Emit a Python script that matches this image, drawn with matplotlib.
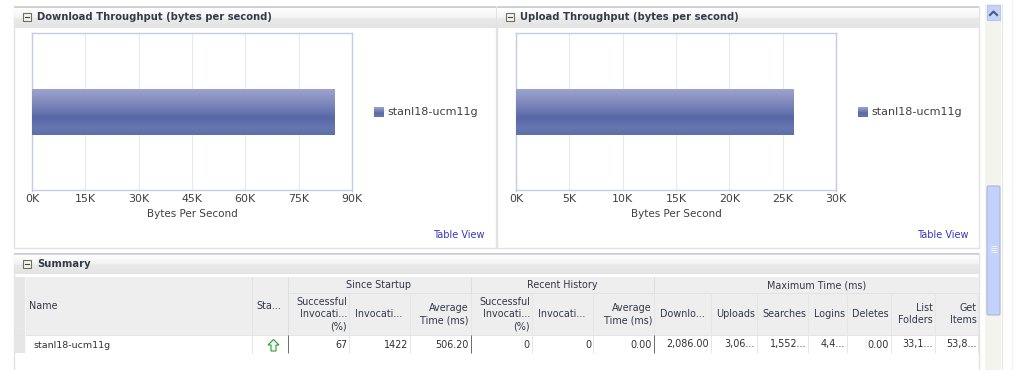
import numpy as np
import matplotlib
matplotlib.use("Agg")
import matplotlib.pyplot as plt
from matplotlib.patches import Rectangle, Polygon, FancyBboxPatch
from matplotlib.colors import LinearSegmentedColormap

W, H = 1014, 370
plt.rcParams['font.family'] = ['DejaVu Sans']

# ---- data ----
series_name = "stanl18-ucm11g"
download_value = [85000]
download_ticks = [0, 15000, 30000, 45000, 60000, 75000, 90000]
download_labels = ["0K", "15K", "30K", "45K", "60K", "75K", "90K"]
upload_value = [26000]
upload_ticks = [0, 5000, 10000, 15000, 20000, 25000, 30000]
upload_labels = ["0K", "5K", "10K", "15K", "20K", "25K", "30K"]
group_headers = ["Since Startup", "Recent History", "Maximum Time (ms)"]
column_headers = ["Successful\nInvocati...\n(%)", "Invocati...", "Average\nTime (ms)",
                  "Successful\nInvocati...\n(%)", "Invocati...", "Average\nTime (ms)",
                  "Downlo...", "Uploads", "Searches", "Logins", "Deletes",
                  "List\nFolders", "Get\nItems"]
row_values = ["67", "1422", "506.20", "0", "0", "0.00", "2,086.00", "3,06...",
              "1,552...", "4,4...", "0.00", "33,1...", "53,8..."]

fig = plt.figure(figsize=(W / 100, H / 100), dpi=100, facecolor="white")
bg = fig.add_axes([0, 0, 1, 1])
bg.set_xlim(0, W)
bg.set_ylim(H, 0)
bg.axis("off")


def rect(x0, y0, x1, y1, fc, ec="none", lw=0, z=1):
    bg.add_patch(Rectangle((x0, y0), x1 - x0, y1 - y0, fc=fc, ec=ec, lw=lw, zorder=z))


def hline(x0, x1, y, c, lw=1, z=2):
    bg.plot([x0, x1], [y, y], color=c, lw=lw * 0.72, solid_capstyle="butt", zorder=z)


def vline(x, y0, y1, c, lw=1, z=2):
    bg.plot([x, x], [y0, y1], color=c, lw=lw * 0.72, solid_capstyle="butt", zorder=z)


def gradient(x0, y0, x1, y1, stops, z=1):
    cm = LinearSegmentedColormap.from_list("g", stops)
    bg.imshow(np.linspace(0, 1, 64)[:, None], extent=(x0, x1, y1, y0), cmap=cm,
              aspect="auto", zorder=z, interpolation="bilinear")


def collapse_icon(x, y):
    rect(x, y, x + 8, y + 8, "#f4f4ee", "#6f6f60", 0.8, 5)
    bg.plot([x + 2, x + 6], [y + 4, y + 4], color="#444444", lw=0.8, zorder=6)


def header(x0, x1, y_top, title, y_text, icon_y):
    hline(x0, x1, y_top, "#c6c9cc", 1.5)
    gradient(x0, y_top + 1, x1, y_top + 21,
             [(0, "#ffffff"), (0.45, "#f5f5f5"), (0.55, "#e9e9e9"), (1, "#e4e4e4")])
    collapse_icon(x0 + 9, icon_y)
    bg.text(x0 + 23, y_text, title, fontsize=7.2, fontweight="bold", color="#343c48",
            va="center", ha="left", zorder=6, family=["DejaVu Sans"])


# ---- page chrome ----
rect(13.5, 7, 496, 248, "white", "#e2e2e2", 1)
rect(497, 7, 979, 248, "white", "#e2e2e2", 1)
rect(13.5, 253, 979, 372, "white", "#e2e2e2", 1)
header(14, 496, 7, "Download Throughput (bytes per second)", 17, 13)
header(497, 979, 7, "Upload Throughput (bytes per second)", 17, 13)
header(14, 979, 253.5, "Summary", 264, 260)

bar_stops = [(0, "#9aa3cf"), (0.3, "#8089bb"), (0.62, "#5868a8"), (0.85, "#6676ae"), (1, "#5e6ea8")]
bar_cmap = LinearSegmentedColormap.from_list("bar", bar_stops)


def chart(left, value, ticks, labels, legend_x):
    ax = fig.add_axes([left / W, 1 - 190.5 / H, 320 / W, 157.5 / H])
    ax.set_xlim(ticks[0], ticks[-1])
    ax.set_ylim(-0.5, 0.5)
    ax.set_xticks(ticks)
    ax.set_xticklabels(labels, fontsize=7.9, color="#404040")
    ax.tick_params(axis="x", length=0, pad=2.5)
    ax.tick_params(axis="y", left=False, labelleft=False)
    ax.grid(axis="x", color="#e4ebf4", lw=0.8)
    ax.set_axisbelow(True)
    for s in ax.spines.values():
        s.set_color("#c3cde0")
        s.set_linewidth(1)
    bars = ax.barh([0], value, height=46 / 157.5, color="#6070a8", zorder=2)
    patch = bars[0]
    im = ax.imshow(np.linspace(0, 1, 46)[:, None], extent=(0, value[0], -23 / 157.5, 23 / 157.5),
                   cmap=bar_cmap, aspect="auto", zorder=3, interpolation="nearest", origin="upper")
    im.set_clip_path(patch)
    ax.set_xlim(ticks[0], ticks[-1])
    ax.set_ylim(-0.5, 0.5)
    ax.set_xlabel("Bytes Per Second", fontsize=7.5, color="#404040", labelpad=3.5)
    gradient(legend_x, 107, legend_x + 10, 117, bar_stops, 5)
    bg.text(legend_x + 13, 112, series_name, fontsize=8.0, color="#404040", va="center", ha="left", zorder=6)


chart(32, download_value, download_ticks, download_labels, 374)
chart(516, upload_value, upload_ticks, upload_labels, 858)

for x in (433, 917):
    bg.text(x, 235.5, "Table View", fontsize=7.0, color="#3636c8", va="center", ha="left", zorder=6)

# ---- table ----
table_top, table_mid, table_head, table_bot = 277, 293, 334.5, 353
rect(14, table_top, 979, table_head, "#eeeeee")
hline(14, 979, table_head, "#e4e4e4")
rect(14, table_top, 25, table_bot, "#e6e6e6")
vline(25, table_top, table_bot, "#f6f6f6")
vline(251.5, table_top, table_bot, "#e3e3e3")
vline(287.5, table_top, table_head, "#dddddd")
hline(287.5, 979, table_mid, "#e2e2e2")
bg.text(29, 306, "Name", fontsize=6.9, color="#303848", va="center", ha="left", zorder=6)
bg.text(256, 306, "Sta...", fontsize=6.9, color="#303848", va="center", ha="left", zorder=6)
bg.text(33, 345, series_name, fontsize=6.8, color="#303030", va="center", ha="left", zorder=6)

group_edges = [287.5, 470.5, 653.5, 979]
for i, name in enumerate(group_headers):
    bg.text((group_edges[i] + group_edges[i + 1]) / 2, 285, name, fontsize=6.9, color="#303848",
            va="center", ha="center", zorder=6)
for x in group_edges[1:3]:
    vline(x, table_top, table_head, "#dddddd")

col_edges = [287.5, 348.5, 409.5, 470.5, 531.5, 592.5, 653.5, 710.5, 756.5, 807.5, 846.5, 890.5, 934.5, 978]
centered = {1, 4, 6}
for i, label in enumerate(column_headers):
    x0, x1 = col_edges[i], col_edges[i + 1]
    vline(x1, table_mid, table_bot, "#e6e6e6")
    if i in centered:
        bg.text((x0 + x1) / 2, 314, label, fontsize=6.9, color="#303848", va="center", ha="center",
                zorder=6)
    else:
        bg.text(x1 - 1.5, 314, label, fontsize=6.9, color="#303848", va="center", ha="right",
                zorder=6, multialignment="right", linespacing=1.3)
    bg.text(x1 - 1.5, 344.5, row_values[i], fontsize=6.9, color="#303030", va="center", ha="right", zorder=6)
for x in group_edges[:3]:
    vline(x, table_head, table_bot, "#707070")

# status arrow
ax_pts = [(273.5, 339.5), (279, 345), (276, 345), (276, 351), (271, 351), (271, 345), (268, 345)]
bg.add_patch(Polygon(ax_pts, closed=True, fc="#f4fff4", ec="#2f9a32", lw=0.8, zorder=6))

# ---- scrollbar ----
rect(985, 4, 1001, 370, "#f5f4ec")
vline(1001.5, 4, 370, "#e6e6dc")
vline(1012, 0, 370, "#f2f2e4")
rect(987, 5, 1000, 20, "#c4d4f8", "#b4c6ee", 0.8, 3)
bg.plot([990, 993.5, 997], [15, 11.5, 15], color="#4a5a80", lw=1.5, zorder=4)
bg.add_patch(FancyBboxPatch((987, 186), 13, 129, boxstyle="round,pad=0,rounding_size=1.5",
                            fc="#c2d2fa", ec="#a8b8d8", lw=0.8, zorder=3))
for y in (246, 248, 250, 252):
    hline(990.5, 997, y, "#eef2fe", 1, 4)

fig.savefig("out.png", dpi=100, facecolor="white")
